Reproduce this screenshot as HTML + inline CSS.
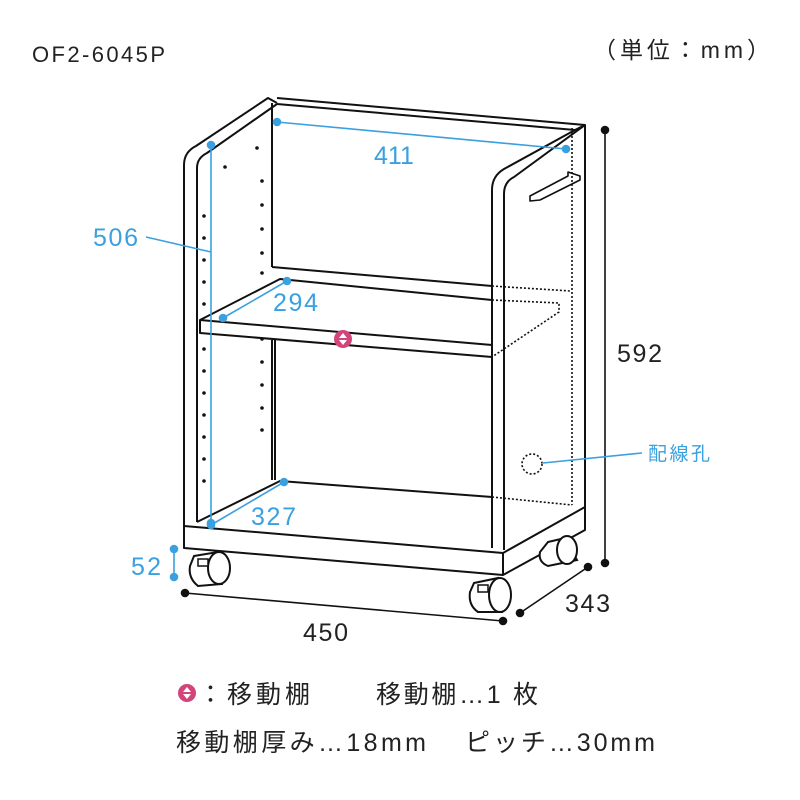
<!DOCTYPE html>
<html><head><meta charset="utf-8"><style>
html,body{margin:0;padding:0;background:#fff;}
svg{display:block;}
text{font-family:"Liberation Sans","Noto Sans CJK JP",sans-serif;}
</style></head><body>
<svg width="800" height="800" viewBox="0 0 800 800" xmlns="http://www.w3.org/2000/svg">
<rect width="800" height="800" fill="#fff"/>
<text x="32" y="62" font-size="22" fill="#222" textLength="133">OF2-6045P</text>
<text x="593" y="58" font-size="23" fill="#222" textLength="177">（単位：mm）</text>

<g fill="none" stroke="#111" stroke-width="2" stroke-linejoin="round">
<line x1="272" y1="103" x2="272" y2="267"/>
<line x1="277" y1="98" x2="585" y2="125"/>
<line x1="277" y1="104" x2="575" y2="130"/>
<line x1="272" y1="267" x2="492" y2="286"/>
<path d="M184,522 L184,165 Q184,152 196,146 L268,98 L277,103"/>
<path d="M197,522 L197,168 Q197,158 207,153 L277,104"/>
<line x1="272" y1="340" x2="272" y2="480"/>
<line x1="275" y1="340" x2="275" y2="480"/>
<path d="M492,548 L492,190 Q492,176 504,169 L575,130 L585,125 L585,508"/>
<path d="M504,550 L504,194 Q504,182 514,177 L585,125"/>
<path d="M200,320 L280,279 L492,300"/>
<path d="M200,320 L492,345 L492,357 L200,333 Z" fill="#fff"/>
<path d="M184,522 L184,548 L503,575 L585,530 L585,507 L503,553 L184,526"/>
<line x1="503" y1="553" x2="503" y2="575"/>
<path d="M197,522 L280,481 L492,497"/>
<path d="M530,196 L568,176 L568,172 L580,176 L580,180 L540,200 L530,201 Z" stroke-width="1.6"/>
</g>
<g fill="none" stroke="#111" stroke-width="1.6" stroke-dasharray="2,2">
<line x1="572" y1="128" x2="572" y2="505"/>
<line x1="492" y1="286" x2="570" y2="291"/>
<path d="M492,300 L559,303 L559,312 L492,357"/>
<line x1="492" y1="497" x2="572" y2="505"/>
<circle cx="532" cy="464" r="10"/>
</g>
<g fill="#111">
<circle cx="257" cy="148" r="1.8"/><circle cx="225" cy="167" r="1.8"/>
<circle cx="262" cy="181" r="1.8"/><circle cx="262" cy="205" r="1.8"/><circle cx="262" cy="229" r="1.8"/><circle cx="262" cy="253" r="1.8"/><circle cx="262" cy="273" r="1.8"/>
<circle cx="204" cy="216" r="1.8"/><circle cx="204" cy="238" r="1.8"/><circle cx="204" cy="260" r="1.8"/><circle cx="204" cy="282" r="1.8"/><circle cx="204" cy="304" r="1.8"/>
<circle cx="262" cy="339" r="1.8"/><circle cx="262" cy="362" r="1.8"/><circle cx="262" cy="385" r="1.8"/><circle cx="262" cy="408" r="1.8"/><circle cx="262" cy="430" r="1.8"/>
<circle cx="204" cy="349" r="1.8"/><circle cx="204" cy="371" r="1.8"/><circle cx="204" cy="393" r="1.8"/><circle cx="204" cy="415" r="1.8"/><circle cx="204" cy="437" r="1.8"/><circle cx="204" cy="459" r="1.8"/><circle cx="204" cy="481" r="1.8"/>
</g>
<g fill="#fff" stroke="#111" stroke-width="2">
<path d="M548,542 L565,538 L577,560 L548,566 Q538,562 540,552 Z"/>
<ellipse cx="567" cy="550" rx="10" ry="14"/>
<path d="M194,556 L218,552 L222,584 L198,586 Q188,578 190,566 Z"/>
<ellipse cx="219" cy="568" rx="11" ry="16"/>
<path d="M474,583 L498,578 L502,612 L478,612 Q468,605 470,592 Z"/>
<ellipse cx="500" cy="595" rx="11" ry="17"/>
<rect x="198" y="559" width="10" height="7" stroke-width="1.5"/>
<rect x="478" y="585" width="10" height="7" stroke-width="1.5"/>
</g>
<g stroke="#111" stroke-width="1.6" fill="#111">
<line x1="605" y1="130" x2="605" y2="563"/>
<circle cx="605" cy="130" r="3.5"/><circle cx="605" cy="563" r="3.5"/>
<line x1="185" y1="593" x2="503" y2="621"/>
<circle cx="185" cy="593" r="3.5"/><circle cx="503" cy="621" r="3.5"/>
<line x1="520" y1="613" x2="588" y2="567"/>
<circle cx="520" cy="613" r="3.5"/><circle cx="588" cy="567" r="3.5"/>
</g>
<text x="617" y="362" font-size="25" fill="#222" textLength="45">592</text>
<text x="303" y="641" font-size="25" fill="#222" textLength="45">450</text>
<text x="565" y="612" font-size="25" fill="#222" textLength="45">343</text>
<g font-size="25" fill="#3aa0e0">
<text x="93" y="246" textLength="45">506</text>
<text x="374" y="164">411</text>
<text x="273" y="311" textLength="45">294</text>
<text x="251" y="525" textLength="45">327</text>
<text x="131" y="575" textLength="30">52</text>
</g>
<g stroke="#3aa0e0" stroke-width="1.6" fill="#3aa0e0">
<line x1="211" y1="145" x2="211" y2="523"/>
<circle cx="211" cy="145" r="3.5"/><circle cx="211" cy="523" r="3.5"/>
<line x1="146" y1="237" x2="211" y2="252"/>
<line x1="277" y1="122" x2="566" y2="149"/>
<circle cx="277" cy="122" r="3.5"/><circle cx="566" cy="149" r="3.5"/>
<line x1="223" y1="318" x2="287" y2="281"/>
<circle cx="223" cy="318" r="3.5"/><circle cx="287" cy="281" r="3.5"/>
<line x1="211" y1="525" x2="284" y2="482"/>
<circle cx="211" cy="525" r="3.5"/><circle cx="284" cy="482" r="3.5"/>
<line x1="174" y1="549" x2="174" y2="577"/>
<circle cx="174" cy="549" r="3.5"/><circle cx="174" cy="577" r="3.5"/>
<line x1="543" y1="463" x2="642" y2="453"/>
</g>
<text x="648" y="460" font-size="19" fill="#3aa0e0" textLength="62">配線孔</text>
<g>
<circle cx="343" cy="339" r="9" fill="#d2457a"/>
<path d="M343,333 L347,338 L339,338 Z M343,345 L347,340 L339,340 Z" fill="#fff"/>
<circle cx="187" cy="693" r="9" fill="#d2457a"/>
<path d="M187,687 L191,692 L183,692 Z M187,699 L191,694 L183,694 Z" fill="#fff"/>
</g>
<text x="198" y="703" font-size="25" fill="#222" textLength="112">：移動棚</text>
<text x="376" y="703" font-size="25" fill="#222" textLength="162">移動棚…1 枚</text>
<text x="176" y="751" font-size="25" fill="#222" textLength="250">移動棚厚み…18mm</text>
<text x="465" y="751" font-size="25" fill="#222" textLength="190">ピッチ…30mm</text>
</svg>
</body></html>
